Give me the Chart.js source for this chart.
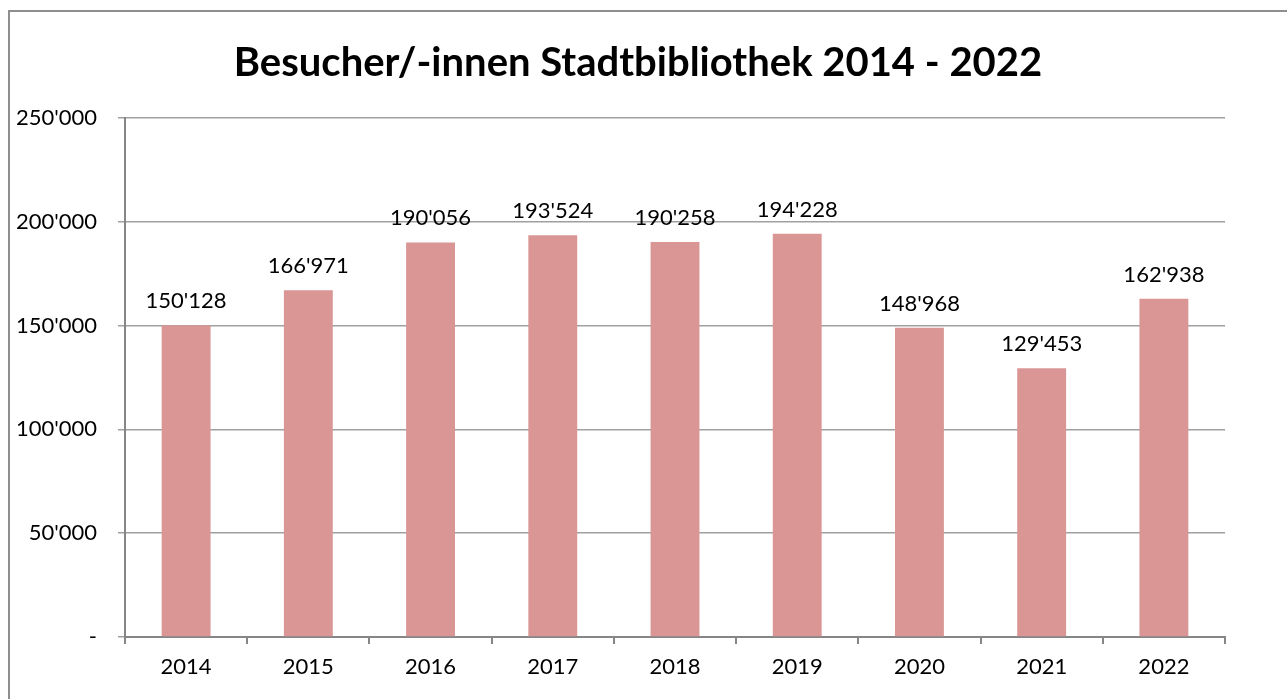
<!DOCTYPE html>
<html>
<head>
<meta charset="utf-8">
<script src="https://cdn.jsdelivr.net/npm/chart.js@4/dist/chart.umd.min.js"></script>
<style>
html,body{margin:0;padding:0;background:#fff;overflow:hidden;}
#wrap{position:relative;width:1287px;height:699px;}
</style>
</head>
<body>
<div id="wrap"><canvas id="c" width="1287" height="699"></canvas></div>
<script>
const categories = ['2014','2015','2016','2017','2018','2019','2020','2021','2022'];
const visitors = [150128, 166971, 190056, 193524, 190258, 194228, 148968, 129453, 162938];
const yTicks = [0, 50000, 100000, 150000, 200000, 250000];
const chartTitle = 'Besucher/-innen Stadtbibliothek 2014 - 2022';

function fmt(v){
  if (v === 0) return '-';
  return String(Math.round(v)).replace(/\B(?=(\d{3})+(?!\d))/g, "'");
}

const FONT = 'Lato, "Open Sans", sans-serif';

const framePlugin = {
  id: 'frame',
  beforeDraw(chart){
    const ctx = chart.ctx;
    ctx.save();
    ctx.fillStyle = '#fff';
    ctx.fillRect(0,0,chart.width,chart.height);
    ctx.strokeStyle = '#8e8e8e';
    ctx.lineWidth = 2;
    ctx.strokeRect(9, 11, chart.width + 20, chart.height + 20);
    ctx.restore();
  }
};

const titlePlugin = {
  id: 'ctitle',
  afterDraw(chart){
    const ctx = chart.ctx;
    ctx.save();
    ctx.font = 'bold 40px ' + FONT;
    ctx.fillStyle = '#000';
    ctx.textAlign = 'center';
    ctx.textBaseline = 'alphabetic';
    ctx.fillText(chartTitle, 638, 76);
    ctx.restore();
  }
};

const labelPlugin = {
  id: 'vlabels',
  afterDatasetsDraw(chart){
    const ctx = chart.ctx;
    const meta = chart.getDatasetMeta(0);
    ctx.save();
    ctx.font = '22px ' + FONT;
    ctx.fillStyle = '#000';
    ctx.textAlign = 'center';
    ctx.textBaseline = 'alphabetic';
    meta.data.forEach((bar, i) => {
      ctx.fillText(fmt(visitors[i]), bar.x, bar.y - 17);
    });
    ctx.restore();
  }
};

new Chart(document.getElementById('c'), {
  type: 'bar',
  data: {
    labels: categories,
    datasets: [{
      data: visitors,
      backgroundColor: '#d99694',
      borderWidth: 0,
      categoryPercentage: 1.0,
      barPercentage: 0.4
    }]
  },
  options: {
    responsive: false,
    animation: false,
    devicePixelRatio: 1,
    layout: { padding: { top: 118, right: 62, left: 0, bottom: 0 } },
    plugins: {
      legend: { display: false },
      tooltip: { enabled: false },
      title: { display: false }
    },
    scales: {
      x: {
        offset: true,
        grid: {
          offset: true,
          drawOnChartArea: false,
          drawTicks: true,
          tickLength: 7,
          color: '#868686',
          lineWidth: 2
        },
        border: { display: true, color: '#868686', width: 2 },
        ticks: {
          color: '#000',
          font: { family: FONT, size: 22 },
          padding: 10,
          maxRotation: 0
        },
        afterFit(scale){ scale.height = 62; }
      },
      y: {
        min: 0,
        max: 250000,
        afterBuildTicks(scale){ scale.ticks = yTicks.map(v => ({value: v})); },
        grid: {
          color: '#a0a0a0',
          lineWidth: 1.5,
          drawTicks: true,
          tickLength: 7
        },
        border: { display: true, color: '#868686', width: 2 },
        ticks: {
          color: '#000',
          font: { family: FONT, size: 22 },
          padding: 21,
          callback: (v) => fmt(v)
        },
        afterFit(scale){ scale.width = 125; }
      }
    }
  },
  plugins: [framePlugin, titlePlugin, labelPlugin]
});
</script>
</body>
</html>
